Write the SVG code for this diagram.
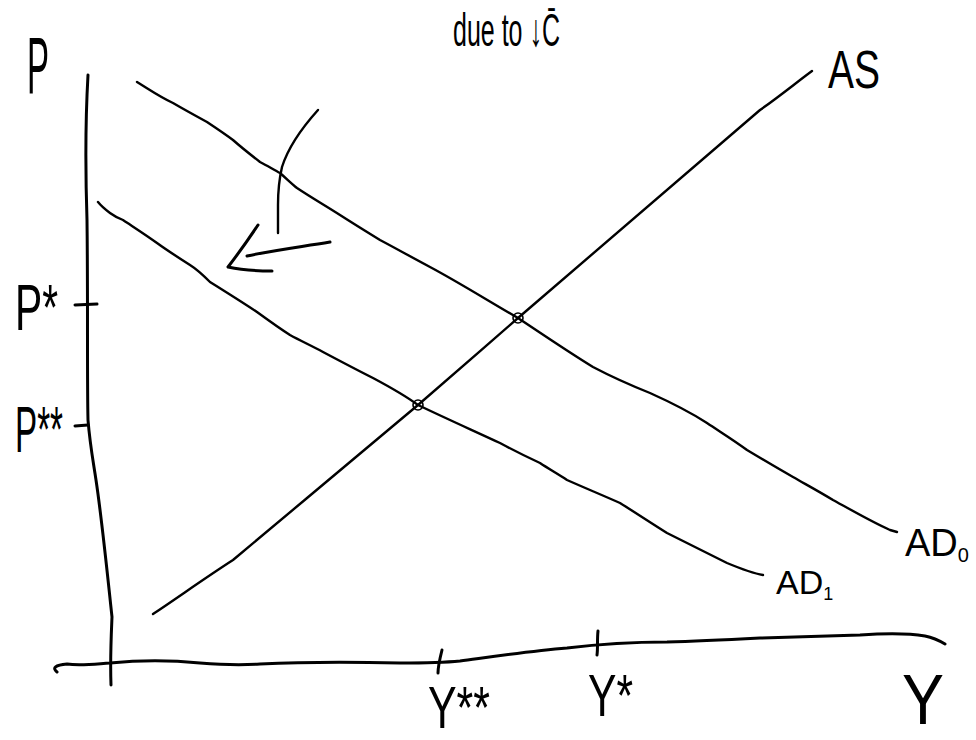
<svg xmlns="http://www.w3.org/2000/svg" width="976" height="740" viewBox="0 0 976 740">
<style>
.ln{fill:none;stroke:#000;stroke-width:2.4;stroke-linecap:round;stroke-linejoin:round}
.ax{fill:none;stroke:#000;stroke-width:3;stroke-linecap:round;stroke-linejoin:round}
.dot{fill:none;stroke:#000;stroke-width:1.6}
.lb{font-family:"Liberation Sans","DejaVu Sans",sans-serif;fill:#000}
</style>
<rect width="976" height="740" fill="#fff"/>
<g id="axes">
  <path id="p-axis" class="ax" d="M88,75 C86,110 85,160 87,220 C88,300 87,380 88,420 C90,445 93,460 96,480 C102,520 108,580 112,617 C111,640 110,660 111,685"/>
  <path id="y-axis" class="ax" d="M57,672 C52,668 55,665 67,664 C80,666 95,664 110,663 C140,660 170,660 200,663 C225,665 245,665 260,664 C300,662 360,662 400,663 C420,663 440,663 460,661 C490,657 530,651 567,648 C600,644 640,642 667,642 C700,641 740,639 760,638 C800,637 830,636 860,635 C890,633 913,634 925,636 C935,638 940,641 945,644"/>
  <path id="tick-pstar" class="ax" d="M75,305 L97,304"/>
  <path id="tick-pstarstar" class="ax" d="M75,426 L88,425"/>
  <path id="tick-ystarstar" class="ax" d="M442,650 C440,658 438,666 438,673"/>
  <path id="tick-ystar" class="ax" d="M598,631 C597,640 598,648 597,655"/>
</g>
<g id="curves">
  <path id="AS" class="ln" d="M153,614 C180,596 205,578 233,560 C295,508 355,458 418,405 C450,377 485,347 518,318 C600,247 680,178 760,110 C780,96 797,82 812,71"/>
  <path id="AD0" class="ln" d="M137,82 C150,90 160,97 173,103 C185,110 196,116 207,122 C216,128 225,134 233,140 C242,148 251,155 260,162 C268,166 274,170 280,173 C288,180 292,184 297,188 C312,198 326,206 340,215 C354,224 367,232 380,240 C397,249 413,258 430,267 C460,283 490,302 518,318 C545,336 570,353 593,367 C612,377 630,385 650,393 C670,402 690,412 707,423 C722,433 735,441 747,450 C762,459 777,468 793,477 C807,485 820,492 833,500 C855,512 872,522 890,530 L897,532"/>
  <path id="AD1" class="ln" d="M98,202 C102,207 106,210 110,213 C114,216 118,218 123,220 C135,228 146,235 157,243 C168,251 179,258 190,265 C198,270 204,276 210,282 C226,292 242,302 257,312 C268,320 279,328 290,335 C301,341 312,346 323,352 C340,361 357,370 373,378 C388,386 403,394 418,405 C445,418 472,430 500,443 C513,450 527,457 540,463 C549,469 558,474 567,480 C585,488 602,495 620,503 C636,513 651,523 667,533 C687,543 707,553 727,563 C739,568 751,573 763,575"/>
  <circle id="eq0" class="dot" cx="518" cy="318" r="5"/>
  <circle id="eq1" class="dot" cx="418" cy="405" r="5"/>
</g>
<g id="shift-arrow">
  <path class="ln" d="M318,110 C300,130 288,148 282,167 C279,180 278,192 278,205 C278,215 278,225 278,233"/>
  <path class="ax" d="M330,242 C300,247 275,250 247,256"/>
  <path class="ax" d="M258,225 C248,240 238,254 228,267 C242,270 257,271 272,271"/>
</g>
<g id="labels">
  <text class="lb" x="27" y="93" font-size="80" textLength="22" lengthAdjust="spacingAndGlyphs">P</text>
  <text class="lb" x="453" y="46" font-size="46" textLength="107" lengthAdjust="spacingAndGlyphs">due to ↓C̄</text>
  <text class="lb" x="828" y="88" font-size="54" textLength="52" lengthAdjust="spacingAndGlyphs">AS</text>
  <text class="lb" x="15" y="330" font-size="64" textLength="43" lengthAdjust="spacingAndGlyphs">P*</text>
  <text class="lb" x="15" y="452" font-size="64" textLength="48" lengthAdjust="spacingAndGlyphs">P**</text>
  <text class="lb" x="905" y="556" font-size="38">AD<tspan font-size="20" dy="6">0</tspan></text>
  <text class="lb" x="776" y="594" font-size="34">AD<tspan font-size="18" dy="6">1</tspan></text>
  <text class="lb" x="428" y="728" font-size="60" textLength="62" lengthAdjust="spacingAndGlyphs">Y**</text>
  <text class="lb" x="588" y="716" font-size="60" textLength="45" lengthAdjust="spacingAndGlyphs">Y*</text>
  <text class="lb" x="902" y="724" font-size="70" textLength="42" lengthAdjust="spacingAndGlyphs">Y</text>
</g>
</svg>
